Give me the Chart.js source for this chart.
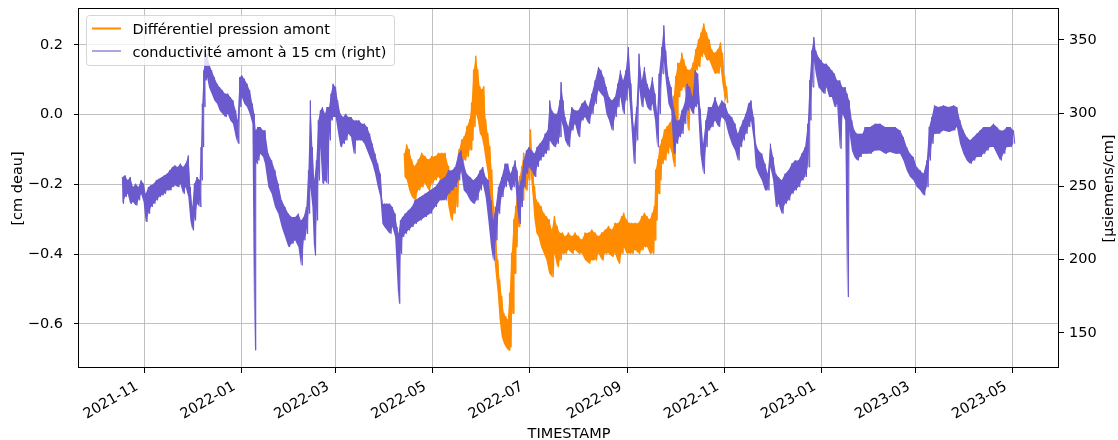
<!DOCTYPE html>
<html>
<head>
<meta charset="utf-8">
<script src="https://cdn.jsdelivr.net/npm/chart.js@4.4.1/dist/chart.umd.min.js"></script>
<style>
  html, body { margin: 0; padding: 0; background: #fff; }
  canvas { display: block; }
</style>
</head>
<body>
<canvas id="chart" width="1118" height="440"></canvas>
<script>
// Readings are noisy, so each sample keeps the top and bottom of the band.
// Days are counted from 2021-11-01.

// conductivité amont à 15 cm (µsiemens/cm, right axis)
const condDay = [
  -13.8, -12.1, -10.4, -8.8, -7.1, -5.4, -3.7, -2.0, -0.4, 0.9, 2.6, 4.2, 5.9, 7.6, 9.3, 11.0, 12.6, 14.3, 16.0, 17.7,
  19.3, 21.0, 22.7, 24.4, 26.0, 27.7, 29.0, 30.2, 31.5, 33.2, 34.8, 35.7, 36.5, 37.4, 38.2, 39.5, 40.7, 42.4, 44.1, 45.8,
  47.4, 49.1, 50.8, 52.5, 54.1, 55.8, 57.5, 58.7, 60.0, 61.3, 62.9, 64.6, 66.3, 68.0, 69.2, 70.1, 71.3, 73.0, 74.7,
  75.9, 78.0, 80.1, 82.2, 84.3, 86.4, 88.5, 90.6, 92.7, 94.8, 96.9, 98.5, 100.2, 101.9, 103.2, 104.4, 105.7, 106.9, 108.2, 109.4,
  110.7, 112.0, 113.6, 114.9, 116.2, 117.4, 118.7, 120.3, 121.6, 123.3, 125.0, 126.6, 128.3, 130.0, 131.7, 133.3, 135.0, 136.7, 138.4, 140.1,
  141.7, 143.4, 145.1, 146.8, 148.4, 149.7, 151.0, 152.6, 154.3, 156.0, 157.7, 158.9, 159.8, 161.0, 162.3, 164.0, 166.0, 168.1,
  170.2, 173.3, 176.5, 179.6, 182.8, 185.9, 189.1, 191.2, 193.3, 195.4, 197.5, 199.1, 200.8, 202.7, 204.8, 206.9, 209.0, 211.1, 212.8, 214.6,
  216.3, 218.0, 219.3, 220.9, 222.6, 224.7, 226.8, 228.5, 230.2, 231.8, 233.1, 234.4, 235.6, 236.9, 238.5, 240.2, 241.9, 243.6, 245.3, 246.9,
  248.6, 250.3, 252.0, 253.6, 254.9, 256.2, 257.8, 259.5, 261.2, 262.0, 263.3,
  264.5, 266.6, 268.7, 270.8, 272.9, 275.0, 277.1, 279.2, 281.3, 283.4, 285.5, 287.1, 288.8, 290.5, 292.2, 293.9, 295.9, 297.6, 299.3, 301.0,
  302.7, 304.3, 306.0, 307.7, 309.4, 311.0, 312.7, 314.4, 316.1, 317.7, 319.4, 321.1, 322.4, 323.6, 325.3, 326.6, 327.8, 329.5, 331.2, 332.8,
  334.5, 336.2, 337.9, 339.6, 341.2, 342.9, 344.6, 346.3, 347.9, 349.6, 351.3, 353.0, 354.6, 356.7,
  358.8, 360.9, 363.0, 365.1, 367.2, 369.3, 371.4, 373.1, 374.7, 376.4, 378.1, 379.8, 381.4, 383.1, 384.4, 386.1, 388.2, 390.2, 391.9, 393.6,
  395.3, 397.0, 398.6, 400.7, 402.8, 404.9, 407.0, 409.1, 411.2, 413.3, 415.4, 417.1, 418.3, 419.6, 420.9, 422.1, 423.8, 425.5, 427.1, 428.8,
  430.5, 432.2, 433.9, 435.5, 437.2, 438.9, 440.6, 441.8, 443.1, 444.8, 446.4, 448.1, 449.8, 451.5,
  453.1, 456.2, 459.4, 462.5, 465.7, 468.8, 472.0, 475.1, 477.2, 479.3, 481.4, 483.5, 485.6, 487.7, 489.8, 491.9, 493.4, 495.0, 496.7, 499.2,
  502.4, 505.5, 508.7, 510.8, 512.8, 514.9, 517.0, 519.1, 521.2, 523.3, 525.4, 527.5, 529.6, 531.7, 533.8, 535.9, 538.0, 540.1, 542.2, 544.3, 546.4
];
const condHigh = [
  256.4, 257.5, 254.1, 256.4, 249.5, 251.8, 249.5, 254.1, 251.8, 245.0, 249.5, 250.7, 251.8, 254.1, 255.2, 256.4, 257.5, 258.6, 260.9, 263.2,
  264.3, 263.2, 265.5, 263.2, 265.5, 271.1, 249.5, 235.9, 251.8, 256.4, 254.1, 276.8, 306.4, 329.1, 338.2, 340.5, 333.6, 329.1, 324.5, 320.0,
  317.7, 315.5, 313.2, 313.2, 310.9, 308.6, 301.8, 295.0, 324.5, 325.7, 323.4, 320.0, 315.5, 306.4, 299.5, 288.2, 290.5, 290.5, 288.2,
  288.2, 272.3, 267.7, 260.9, 251.8, 240.5, 235.9, 231.4, 229.1, 229.1, 231.4, 226.8, 229.1, 235.9, 260.9, 308.6, 276.8, 254.1, 267.7, 295.0,
  301.8, 304.1, 299.5, 304.1, 304.1, 313.2, 320.0, 317.7, 308.6, 299.5, 297.3, 299.5, 297.3, 297.3, 295.0, 295.0, 295.0, 292.7, 292.7, 290.5,
  285.9, 279.1, 272.3, 265.5, 258.6, 238.2, 238.2, 238.2, 238.2, 235.9, 231.4, 222.3, 217.7, 226.8, 229.1, 231.4, 233.6, 235.9,
  240.5, 242.7, 245.0, 247.3, 249.5, 254.1, 256.4, 260.9, 260.9, 263.2, 272.3, 274.5, 265.5, 258.6, 256.4, 254.1, 256.4, 260.9, 263.2, 256.4,
  254.1, 240.5, 226.8, 235.9, 249.5, 256.4, 265.5, 265.5, 258.6, 263.2, 267.7, 260.9, 249.5, 254.1, 267.7, 274.5, 276.8, 274.5, 272.3, 276.8,
  279.1, 281.4, 285.9, 288.2, 308.6, 301.8, 299.5, 299.5, 308.6, 321.1, 308.6,
  297.3, 290.5, 304.1, 301.8, 301.8, 306.4, 308.6, 304.1, 313.2, 322.3, 331.4, 329.1, 324.5, 317.7, 310.9, 308.6, 310.9, 320.0, 329.1, 322.3,
  329.1, 345.0, 320.0, 288.2, 304.1, 340.5, 322.3, 331.4, 320.0, 315.5, 324.5, 313.2, 299.5, 326.8, 345.0, 359.8, 342.7, 324.5, 317.7, 304.1,
  295.0, 295.0, 301.8, 306.4, 320.0, 317.7, 310.9, 329.1, 326.8, 301.8, 279.1, 295.0, 304.1, 304.1,
  310.9, 304.1, 308.6, 306.4, 299.5, 297.3, 292.7, 285.9, 290.5, 295.0, 299.5, 306.4, 308.6, 297.3, 279.1, 274.5, 272.3, 265.5, 258.6, 279.1,
  270.0, 258.6, 256.4, 254.1, 258.6, 260.9, 265.5, 267.7, 267.7, 272.3, 276.8, 292.7, 322.3, 342.7, 351.8, 342.7, 338.2, 335.9, 333.6, 333.6,
  331.4, 329.1, 326.8, 322.3, 322.3, 317.7, 317.7, 313.2, 308.6, 295.0, 288.2, 285.9, 285.9, 285.9,
  290.5, 290.5, 292.7, 292.7, 290.5, 290.5, 290.5, 288.2, 283.6, 276.8, 272.3, 270.0, 263.2, 260.9, 258.6, 267.7, 290.5, 297.3, 305.2, 304.1,
  305.2, 304.1, 305.2, 304.1, 295.0, 288.2, 283.6, 281.4, 283.6, 285.9, 288.2, 290.5, 290.5, 290.5, 292.7, 290.5, 288.2, 288.2, 290.5, 290.5, 288.2
];
const condLow = [
  238.2, 242.7, 245.0, 238.2, 239.3, 237.0, 240.5, 245.0, 239.3, 225.7, 231.4, 235.9, 238.2, 240.5, 242.7, 243.9, 245.0, 247.3, 247.3, 249.5,
  250.7, 249.5, 251.8, 245.0, 249.5, 242.7, 226.8, 220.0, 226.8, 238.2, 235.9, 254.1, 276.8, 304.1, 322.3, 324.5, 317.7, 313.2, 308.6, 306.4,
  301.8, 299.5, 297.3, 299.5, 295.0, 292.7, 283.6, 279.1, 304.1, 310.9, 306.4, 304.1, 299.5, 292.7, 138.2, 265.5, 267.7, 272.3, 270.0,
  265.5, 249.5, 245.0, 235.9, 231.4, 222.3, 215.5, 208.6, 210.9, 213.2, 208.6, 196.1, 213.2, 217.7, 231.4, 249.5, 235.9, 202.9, 226.8, 254.1,
  276.8, 251.8, 254.1, 251.8, 281.4, 295.0, 297.3, 297.3, 288.2, 276.8, 279.1, 281.4, 285.9, 283.6, 272.3, 281.4, 281.4, 281.4, 279.1, 274.5,
  270.0, 265.5, 258.6, 249.5, 242.7, 224.5, 222.3, 220.0, 217.7, 222.3, 215.5, 190.5, 170.0, 204.1, 215.5, 217.7, 220.0, 222.3,
  224.5, 226.8, 229.1, 231.4, 235.9, 240.5, 240.5, 245.0, 247.3, 249.5, 254.1, 260.9, 247.3, 245.0, 240.5, 238.2, 240.5, 247.3, 251.8, 242.7,
  226.8, 208.6, 199.5, 213.2, 231.4, 242.7, 249.5, 254.1, 247.3, 249.5, 254.1, 235.9, 224.5, 235.9, 249.5, 258.6, 263.2, 260.9, 256.4, 263.2,
  267.7, 270.0, 272.3, 274.5, 281.4, 279.1, 276.8, 279.1, 283.6, 295.0, 290.5,
  281.4, 276.8, 288.2, 292.7, 283.6, 295.0, 297.3, 292.7, 299.5, 306.4, 315.5, 313.2, 310.9, 299.5, 295.0, 288.2, 297.3, 304.1, 310.9, 299.5,
  308.6, 317.7, 295.0, 265.5, 281.4, 317.7, 304.1, 310.9, 304.1, 301.8, 306.4, 295.0, 276.8, 299.5, 326.8, 335.9, 322.3, 306.4, 301.8, 272.3,
  279.1, 283.6, 285.9, 292.7, 301.8, 304.1, 299.5, 304.1, 306.4, 272.3, 258.6, 276.8, 288.2, 290.5,
  295.0, 290.5, 297.3, 295.0, 285.9, 279.1, 274.5, 267.7, 276.8, 281.4, 285.9, 290.5, 295.0, 281.4, 263.2, 258.6, 254.1, 247.3, 247.3, 263.2,
  254.1, 235.9, 238.2, 231.4, 238.2, 240.5, 245.0, 247.3, 249.5, 254.1, 256.4, 263.2, 295.0, 317.7, 335.9, 326.8, 317.7, 315.5, 313.2, 317.7,
  310.9, 310.9, 304.1, 306.4, 275.7, 299.5, 295.0, 174.5, 288.2, 274.5, 270.0, 267.7, 270.0, 272.3,
  272.3, 272.3, 274.5, 274.5, 272.3, 273.4, 272.3, 272.3, 267.7, 260.9, 256.4, 254.1, 249.5, 247.3, 243.9, 249.5, 267.7, 279.1, 285.9, 285.9,
  288.2, 287.1, 288.2, 290.5, 279.1, 272.3, 267.7, 265.5, 267.7, 270.0, 270.0, 272.3, 274.5, 276.8, 276.8, 272.3, 267.7, 272.3, 276.8, 276.8, 279.1
];

// Différentiel pression amont (cm deau, left axis)
const presDay = [
  163.5, 165.0, 166.5, 168.1, 169.8, 172.3, 174.4, 176.5, 178.6, 180.7, 182.8, 184.9, 187.0, 189.1, 191.2, 192.8, 194.5, 196.2, 197.9, 199.6,
  201.2, 202.9, 204.6, 205.8, 207.1, 208.4, 209.6, 210.9, 212.1, 213.4, 214.6, 215.9, 217.2, 218.4, 219.7, 220.9, 222.2, 223.4, 224.7, 226.0,
  227.2, 228.5, 229.7, 231.0, 232.3, 233.5, 234.8, 236.0, 237.3, 238.5, 239.8, 241.5, 242.7, 244.0, 245.3, 246.5, 247.8, 249.4, 251.1, 252.8,
  254.5, 256.2, 257.8, 259.5, 261.2, 262.9,
  264.5, 266.6, 268.7, 270.8, 272.9, 275.0, 277.1, 279.2, 281.3, 283.4, 285.5, 287.6, 289.7, 291.8, 293.9, 295.9, 298.0, 300.1, 301.4, 303.1,
  304.8, 306.4, 308.5, 310.6, 312.7, 314.4, 316.1, 317.7, 319.4, 320.7, 321.5, 322.8, 324.0, 325.3, 327.0, 328.7, 330.3, 331.6, 332.8, 334.1,
  335.4, 336.6, 337.9, 339.1, 340.4, 341.6, 343.3, 345.0, 346.7, 348.4, 350.0, 351.7, 353.4, 355.1, 356.7, 358.4,
  360.5, 362.2, 363.4, 364.7, 365.9
];
const presHigh = [
  -0.111, -0.087, -0.101, -0.130, -0.149, -0.130, -0.111, -0.120, -0.130, -0.120, -0.120, -0.111, -0.111, -0.111, -0.149, -0.168, -0.187, -0.187, -0.101, -0.073,
  -0.063, -0.034, -0.015, 0.033, 0.128, 0.167, 0.128, 0.080, 0.071, 0.080, -0.015, -0.054, -0.092, -0.159, -0.264, -0.350, -0.417, -0.475, -0.522, -0.570,
  -0.580, -0.589, -0.513, -0.398, -0.302, -0.264, -0.207, -0.178, -0.149, -0.111, -0.140, -0.111, -0.044, -0.140, -0.207, -0.245, -0.254, -0.264, -0.283, -0.293,
  -0.302, -0.331, -0.293, -0.321, -0.340, -0.340,
  -0.350, -0.340, -0.350, -0.340, -0.350, -0.360, -0.340, -0.340, -0.331, -0.340, -0.350, -0.340, -0.331, -0.321, -0.331, -0.312, -0.312, -0.293, -0.283, -0.302,
  -0.312, -0.312, -0.312, -0.312, -0.293, -0.283, -0.293, -0.302, -0.283, -0.264, -0.159, -0.130, -0.092, -0.073, -0.044, -0.034, -0.025, -0.015, 0.052, 0.109,
  0.147, 0.147, 0.176, 0.157, 0.138, 0.128, 0.128, 0.147, 0.186, 0.214, 0.234, 0.260, 0.234, 0.214, 0.186, 0.176,
  0.186, 0.205, 0.176, 0.109, 0.080
];
const presLow = [
  -0.178, -0.187, -0.216, -0.235, -0.245, -0.216, -0.207, -0.197, -0.216, -0.197, -0.187, -0.178, -0.197, -0.187, -0.264, -0.302, -0.283, -0.264, -0.168, -0.140,
  -0.130, -0.120, -0.101, -0.073, -0.034, 0.004, -0.015, -0.054, -0.063, -0.092, -0.130, -0.168, -0.245, -0.321, -0.398, -0.455, -0.513, -0.589, -0.637, -0.656,
  -0.666, -0.675, -0.666, -0.570, -0.455, -0.379, -0.321, -0.264, -0.245, -0.207, -0.216, -0.187, -0.159, -0.226, -0.302, -0.340, -0.350, -0.379, -0.398, -0.417,
  -0.455, -0.465, -0.398, -0.436, -0.417, -0.398,
  -0.398, -0.388, -0.398, -0.388, -0.398, -0.398, -0.417, -0.426, -0.417, -0.417, -0.398, -0.417, -0.398, -0.398, -0.407, -0.398, -0.426, -0.398, -0.379, -0.398,
  -0.398, -0.398, -0.388, -0.398, -0.388, -0.379, -0.379, -0.398, -0.398, -0.360, -0.302, -0.226, -0.187, -0.140, -0.130, -0.111, -0.092, -0.111, -0.149, -0.034,
  0.052, 0.071, 0.080, 0.090, 0.052, -0.044, 0.033, 0.061, 0.128, 0.138, 0.167, 0.176, 0.157, 0.157, 0.138, 0.119,
  0.119, 0.138, 0.090, 0.052, 0.033
];

const seriesNames = ['Différentiel pression amont', 'conductivité amont à 15 cm (right)'];
const seriesColors = ['#ff8c00', '#6a5acd'];
const xTickLabels = ['2021-11', '2022-01', '2022-03', '2022-05', '2022-07', '2022-09', '2022-11', '2023-01', '2023-03', '2023-05'];
const leftTicks = [-0.6, -0.4, -0.2, 0.0, 0.2];
const rightTicks = [150, 200, 250, 300, 350];

const FONT = 'DejaVu Sans';
const FS = 14.5;
const ORIGIN = Date.UTC(2021, 10, 1);

function monthToDay(label) {
    const [y, m] = label.split('-').map(Number);
    return (Date.UTC(y, m - 1, 1) - ORIGIN) / 86400000;
}
const xTickDays = xTickLabels.map(monthToDay);

function points(days, vals) {
    return days.map((d, i) => ({ x: d, y: vals[i] }));
}

// top of the band, then bottom just after, so the line zigzags like the raw signal
function zigzag(days, high, low) {
    const pts = [];
    days.forEach((d, i) => {
        pts.push({ x: d, y: high[i] });
        pts.push({ x: d + 0.8, y: low[i] });
    });
    return pts;
}

function minus(v) {
    return (v < 0 ? '\u2212' : '') + Math.abs(v).toFixed(1);
}

// spines, legend box and axis titles, drawn the way matplotlib lays them out
const framePlugin = {
    id: 'frame',
    afterDatasetsDraw(chart) {
        const { ctx, chartArea: a } = chart;
        ctx.save();
        ctx.strokeStyle = '#000';
        ctx.lineWidth = 1;
        ctx.strokeRect(a.left - 0.5, a.top - 0.5, a.right - a.left, a.bottom - a.top);

        // legend
        const bx = 86.5, by = 15.5, bw = 308, bh = 50, r = 3;
        ctx.beginPath();
        ctx.moveTo(bx + r, by);
        ctx.arcTo(bx + bw, by, bx + bw, by + bh, r);
        ctx.arcTo(bx + bw, by + bh, bx, by + bh, r);
        ctx.arcTo(bx, by + bh, bx, by, r);
        ctx.arcTo(bx, by, bx + bw, by, r);
        ctx.closePath();
        ctx.fillStyle = 'rgba(255,255,255,0.8)';
        ctx.fill();
        ctx.strokeStyle = 'rgba(204,204,204,0.8)';
        ctx.stroke();

        const rows = [28.5, 51];
        seriesNames.forEach((name, i) => {
            ctx.beginPath();
            ctx.strokeStyle = seriesColors[i];
            ctx.lineWidth = i === 0 ? 2 : 1.1;
            ctx.moveTo(92, rows[i]);
            ctx.lineTo(121, rows[i]);
            ctx.stroke();
            ctx.fillStyle = '#000';
            ctx.font = FS + 'px "' + FONT + '"';
            ctx.textAlign = 'left';
            ctx.textBaseline = 'alphabetic';
            ctx.fillText(name, 132.5, rows[i] + 5.8);
        });
        ctx.restore();
    },
    afterDraw(chart) {
        const { ctx, chartArea: a } = chart;
        const midY = (a.top + a.bottom) / 2;
        ctx.save();
        ctx.fillStyle = '#000';
        ctx.font = FS + 'px "' + FONT + '"';
        ctx.textAlign = 'center';
        ctx.textBaseline = 'alphabetic';
        ctx.fillText('TIMESTAMP', (a.left + a.right) / 2, 438);

        ctx.save();
        ctx.translate(21.5, midY);
        ctx.rotate(-Math.PI / 2);
        ctx.fillText('[cm deau]', 0, 0);
        ctx.restore();

        ctx.save();
        ctx.translate(1113, midY);
        ctx.rotate(-Math.PI / 2);
        ctx.fillText('[\u00b5siemens/cm]', 0, 0);
        ctx.restore();
        ctx.restore();
    }
};

const tickFont = { family: FONT, size: FS };
const edge = { pointRadius: 0, borderColor: 'transparent', borderWidth: 1 };

new Chart(document.getElementById('chart'), {
    type: 'line',
    data: {
        datasets: [
            // 0-2: pressure band (upper edge, lower edge filled to it, noisy trace)
            { ...edge, data: points(presDay, presHigh), yAxisID: 'y', order: 3 },
            { ...edge, data: points(presDay, presLow), yAxisID: 'y', order: 3,
              fill: '-1', backgroundColor: seriesColors[0] },
            { label: seriesNames[0], data: zigzag(presDay, presHigh, presLow), yAxisID: 'y',
              borderColor: seriesColors[0], borderWidth: 1.6, borderJoinStyle: 'round', pointRadius: 0, order: 2 },
            // 3-5: conductivity band, drawn above the pressure
            { ...edge, data: points(condDay, condHigh), yAxisID: 'y2', order: 1 },
            { ...edge, data: points(condDay, condLow), yAxisID: 'y2', order: 1,
              fill: '-1', backgroundColor: seriesColors[1] },
            { label: seriesNames[1], data: zigzag(condDay, condHigh, condLow), yAxisID: 'y2',
              borderColor: seriesColors[1], borderWidth: 1, borderJoinStyle: 'round', pointRadius: 0, order: 0 }
        ]
    },
    options: {
        responsive: false,
        animation: false,
        devicePixelRatio: 1,
        layout: { padding: { top: 9, left: 0, right: 0, bottom: 0 } },
        plugins: {
            legend: { display: false },
            tooltip: { enabled: false },
            filler: { propagate: false }
        },
        scales: {
            x: {
                type: 'linear',
                position: 'bottom',
                min: -41,
                max: 575,
                afterBuildTicks: s => { s.ticks = xTickDays.map(v => ({ value: v })); },
                afterFit: s => { s.height = 72; s.paddingLeft = 0; s.paddingRight = 0; },
                ticks: {
                    autoSkip: false,
                    minRotation: 30,
                    maxRotation: 30,
                    padding: 5,
                    labelOffset: -7,
                    color: '#000',
                    font: tickFont,
                    callback: (v, i) => xTickLabels[i]
                },
                grid: { color: '#b0b0b0', lineWidth: 0.8, tickLength: 5, tickColor: '#000', tickWidth: 1 },
                border: { display: false }
            },
            y: {
                type: 'linear',
                position: 'left',
                min: -0.727,
                max: 0.303,
                afterBuildTicks: s => { s.ticks = leftTicks.map(v => ({ value: v })); },
                afterFit: s => { s.width = 79; s.paddingTop = 0; s.paddingBottom = 0; },
                ticks: { padding: 11, color: '#000', font: tickFont, callback: v => minus(v) },
                grid: { color: '#b0b0b0', lineWidth: 0.8, tickLength: 5, tickColor: '#000', tickWidth: 1 },
                border: { display: false }
            },
            y2: {
                type: 'linear',
                position: 'right',
                min: 126.1,
                max: 371,
                afterBuildTicks: s => { s.ticks = rightTicks.map(v => ({ value: v })); },
                afterFit: s => { s.width = 59; s.paddingTop = 0; s.paddingBottom = 0; },
                ticks: { padding: 5, color: '#000', font: tickFont, callback: v => String(v) },
                grid: { drawOnChartArea: false, tickLength: 5, tickColor: '#000', tickWidth: 1 },
                border: { display: false }
            }
        }
    },
    plugins: [framePlugin]
});
</script>
</body>
</html>
